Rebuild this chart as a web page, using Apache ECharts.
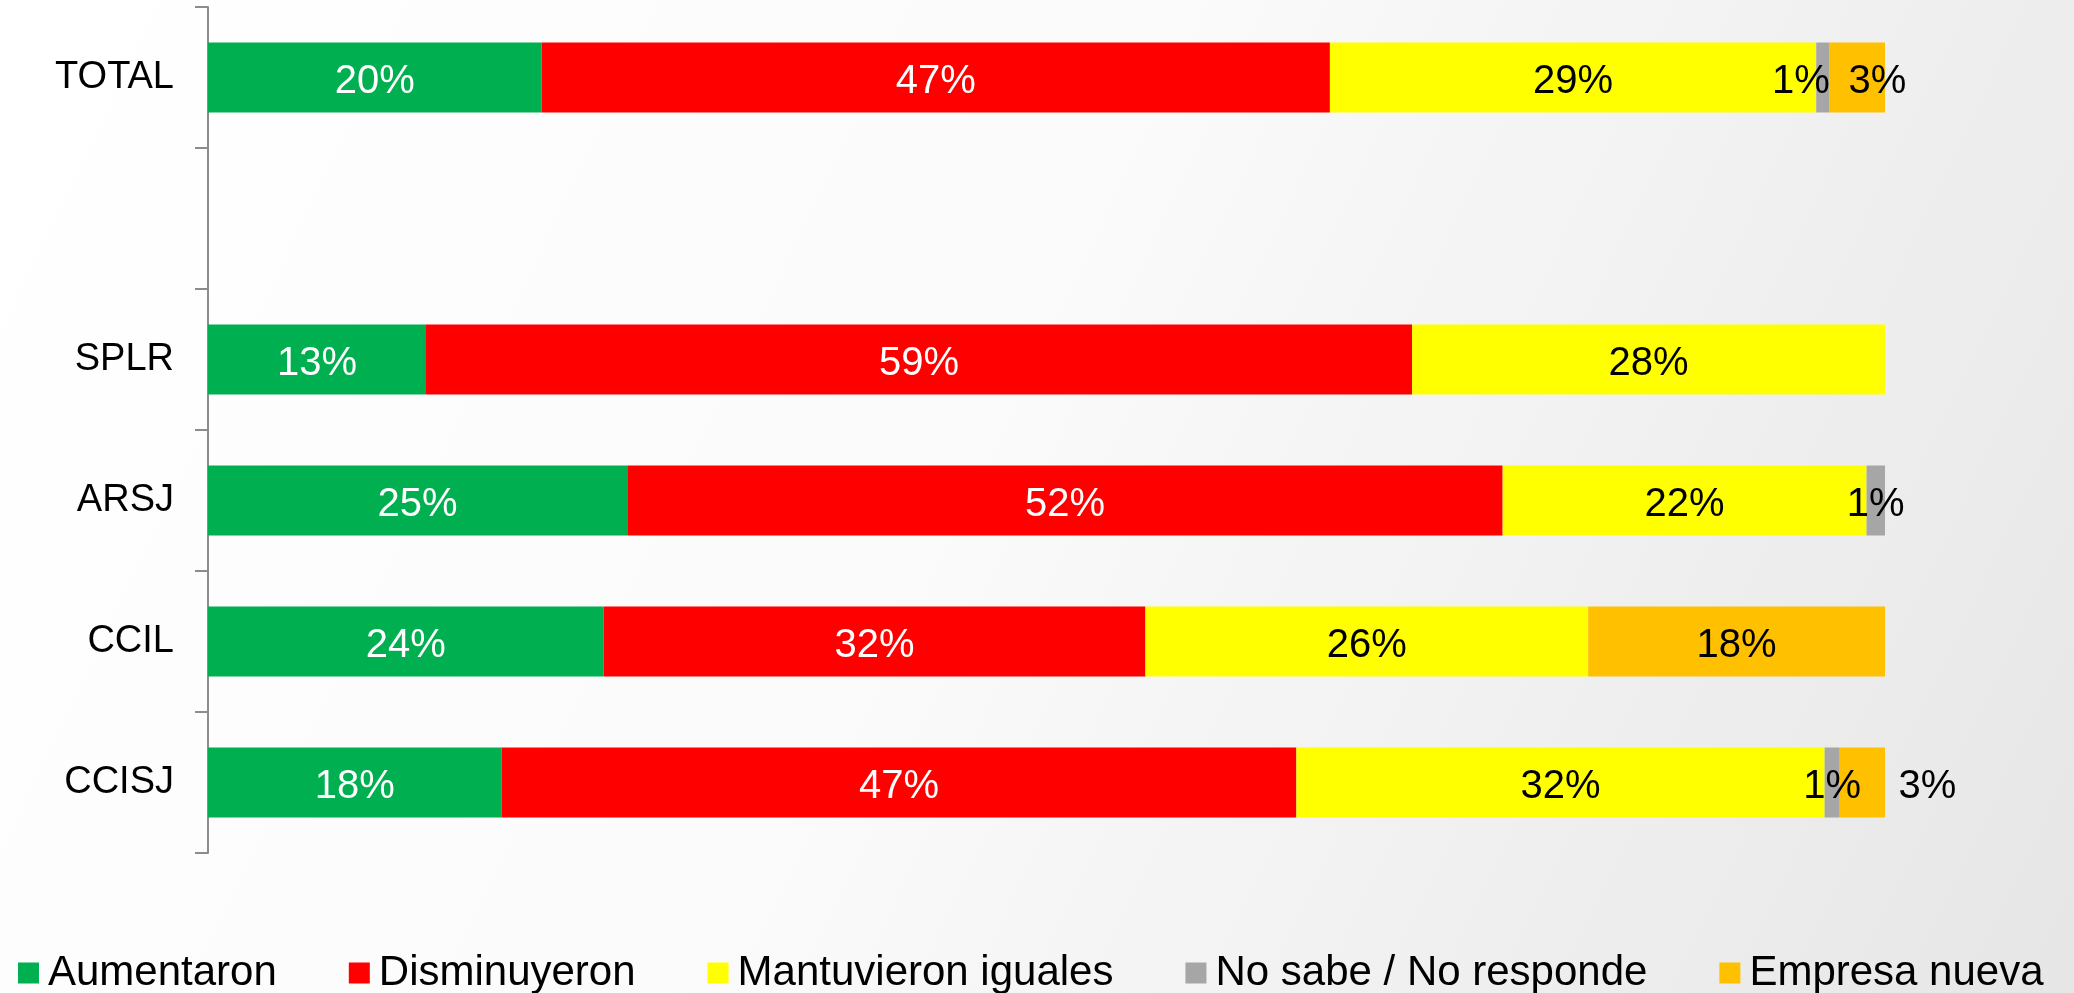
<!DOCTYPE html>
<html>
<head>
<meta charset="utf-8">
<script src="https://cdn.jsdelivr.net/npm/echarts@6/dist/echarts.min.js"></script>
<style>
  html, body { margin: 0; padding: 0; }
  #chart { width: 2074px; height: 993px; }
</style>
</head>
<body>
<div id="chart"></div>
<script>
// categories, top to bottom (the empty one is the gap row)
const categories = ['TOTAL', '', 'SPLR', 'ARSJ', 'CCIL', 'CCISJ'];

// shares in %
const aumentaron   = [19.9, null, 13.0, 25.0, 23.6, 17.5];
const disminuyeron = [47.0, null, 58.8, 52.2, 32.3, 47.4];
const mantuvieron  = [29.0, null, 28.2, 21.7, 26.4, 31.5];
const noSabe       = [0.8,  null, null, 1.1,  null, 0.9];
const empresaNueva = [3.3,  null, null, null, 17.7, 2.7];

const seriesNames = ['Aumentaron', 'Disminuyeron', 'Mantuvieron iguales', 'No sabe / No responde', 'Empresa nueva'];
const seriesColors = ['#00B050', '#FF0000', '#FFFF00', '#A6A6A6', '#FFC000'];
const labelColors = ['#ffffff', '#ffffff', '#000000', '#000000', '#000000'];

// a few labels were moved by hand in the original
const labelNudge = {
  '3-0': [-22, 4],
  '4-0': [20, 4],
  '4-5': [65, 4]
};

const font = '"Liberation Sans", Arial, sans-serif';

const allValues = [aumentaron, disminuyeron, mantuvieron, noSabe, empresaNueva];

const series = allValues.map((vals, s) => ({
  name: seriesNames[s],
  type: 'bar',
  stack: 'total',
  barWidth: 70,
  itemStyle: { color: seriesColors[s] },
  label: {
    show: true,
    position: 'inside',
    offset: [0, 4],
    color: labelColors[s],
    fontSize: 40,
    fontFamily: font,
    formatter: (p) => (p.value == null ? '' : Math.round(p.value) + '%')
  },
  data: vals.map((v, i) => {
    const nudge = labelNudge[s + '-' + i];
    if (!nudge || v == null) return v;
    return { value: v, label: { offset: nudge } };
  })
}));

const chart = echarts.init(document.getElementById('chart'));
chart.setOption({
  animation: false,
  backgroundColor: new echarts.graphic.LinearGradient(0, 0, 1, 1, [
    { offset: 0, color: '#ffffff' },
    { offset: 0.45, color: '#fbfbfb' },
    { offset: 1, color: '#e6e6e6' }
  ]),
  grid: { left: 208, right: 189, top: 7, bottom: 140, containLabel: false },
  legend: {
    left: 18,
    top: 952,
    padding: 0,
    itemWidth: 21,
    itemHeight: 21,
    itemGap: 72,
    icon: 'rect',
    textStyle: { fontSize: 42, color: '#000', fontFamily: font, padding: [0, 0, 0, 4] },
    data: seriesNames
  },
  xAxis: {
    type: 'value',
    min: 0,
    max: 100,
    show: false
  },
  yAxis: {
    type: 'category',
    inverse: true,
    data: categories,
    axisLine: { lineStyle: { color: '#8c8c8c', width: 2 } },
    axisTick: { show: true, length: 13, lineStyle: { color: '#8c8c8c', width: 2 } },
    axisLabel: { color: '#000', fontSize: 38, fontFamily: font, margin: 34 },
    splitLine: { show: false }
  },
  series: series
});
</script>
</body>
</html>
